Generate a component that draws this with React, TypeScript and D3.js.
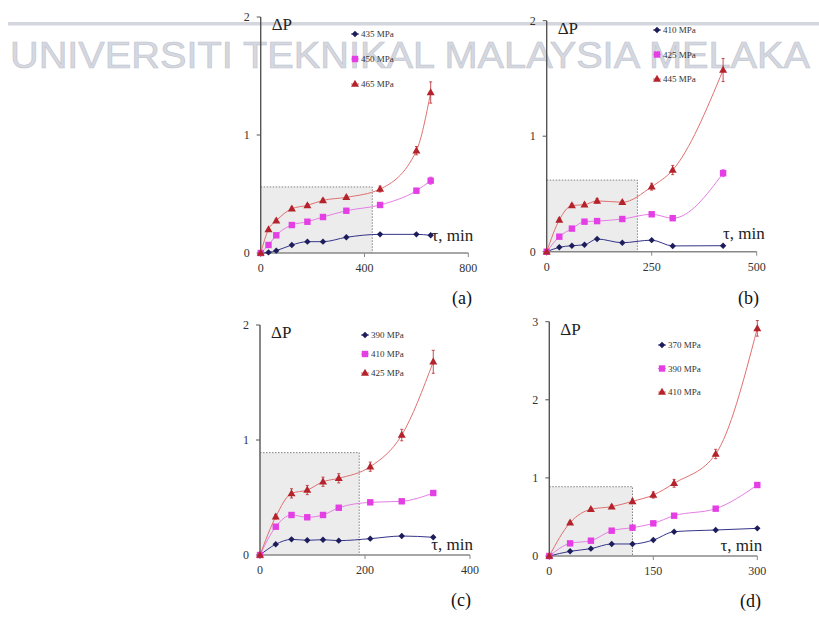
import * as d3 from 'd3';

// panel (a)
const timeA = [0, 30, 60, 120, 180, 240, 330, 460, 600, 655];
const a435 = [0, 0.005, 0.02, 0.068, 0.096, 0.096, 0.133, 0.158, 0.158, 0.15];
const a450 = [0, 0.068, 0.15, 0.237, 0.265, 0.305, 0.358, 0.407, 0.528, 0.613];
const a465 = [0, 0.2, 0.274, 0.375, 0.404, 0.446, 0.472, 0.542, 0.867, 1.36];
const a450Err = [0, 0.01, 0.01, 0.01, 0.01, 0.01, 0.01, 0.015, 0.02, 0.03];
const a465Err = [0, 0.01, 0.015, 0.015, 0.015, 0.015, 0.015, 0.025, 0.035, 0.09];

// panel (b)
const timeB = [0, 30, 60, 90, 120, 180, 250, 300, 420];
const b410 = [0, 0.038, 0.052, 0.06, 0.11, 0.078, 0.1, 0.05, 0.052];
const b425 = [0, 0.13, 0.2, 0.26, 0.265, 0.283, 0.324, 0.29, 0.68];
const b445 = [0, 0.275, 0.4, 0.407, 0.44, 0.428, 0.563, 0.707, 1.573];
const b425Err = [0, 0.01, 0.01, 0.01, 0.01, 0.01, 0.015, 0.015, 0.03];
const b445Err = [0, 0.015, 0.015, 0.015, 0.02, 0.015, 0.03, 0.04, 0.1];

// panel (c)
const timeC = [0, 30, 60, 90, 120, 150, 210, 270, 330];
const c390 = [0, 0.093, 0.136, 0.128, 0.133, 0.125, 0.142, 0.165, 0.154];
const c410 = [0, 0.246, 0.348, 0.328, 0.348, 0.411, 0.458, 0.467, 0.539];
const c425 = [0, 0.333, 0.536, 0.565, 0.637, 0.667, 0.768, 1.043, 1.68];
const c410Err = [0, 0.01, 0.015, 0.015, 0.015, 0.015, 0.015, 0.015, 0.02];
const c425Err = [0, 0.02, 0.04, 0.04, 0.04, 0.04, 0.04, 0.05, 0.1];

// panel (d)
const timeD = [0, 30, 60, 90, 120, 150, 180, 240, 300];
const d370 = [0, 0.06, 0.094, 0.154, 0.154, 0.205, 0.311, 0.333, 0.354];
const d390 = [0, 0.162, 0.196, 0.324, 0.363, 0.418, 0.516, 0.606, 0.909];
const d410 = [0, 0.427, 0.598, 0.632, 0.7, 0.781, 0.931, 1.306, 2.915];
const d390Err = [0, 0.01, 0.01, 0.015, 0.015, 0.015, 0.02, 0.02, 0.03];
const d410Err = [0, 0.02, 0.02, 0.02, 0.03, 0.04, 0.05, 0.06, 0.1];

const ticksA = [0, 400, 800];
const ticksB = [0, 250, 500];
const ticksC = [0, 200, 400];
const ticksD = [0, 150, 300];
const yTicks2 = [0, 1, 2];
const yTicks3 = [0, 1, 2, 3];

const watermark = 'UNIVERSITI TEKNIKAL MALAYSIA MELAKA';

const SERIF = "'Liberation Serif', 'Times New Roman', Times, 'DejaVu Serif', serif";
const NAVY = '#1d1d5c';
const MAGENTA = '#e43fe4';
const RED = '#b4232b';

type Series = { label: string; values: number[]; err?: number[]; kind: 'diamond' | 'square' | 'triangle' };

type PanelProps = {
  times: number[];
  series: Series[];
  xTicks: number[];
  yTicks: number[];
  xPx: [number, number];
  yPx: [number, number];
  shade: [number, number];
  legend: [number, number, number];
  letter: string;
  letterPos: [number, number];
  curve: d3.CurveFactory;
  tauDx: number;
  tauDy: number;
};

const lineColor = { diamond: '#34348a', square: '#e57ee5', triangle: '#e07070' };
const markColor = { diamond: NAVY, square: MAGENTA, triangle: RED };

function Marker({ kind, x, y }: { kind: Series['kind']; x: number; y: number }) {
  if (kind === 'diamond')
    return <path d={`M${x},${y - 3.2}L${x + 3.2},${y}L${x},${y + 3.2}L${x - 3.2},${y}Z`} fill={NAVY} />;
  if (kind === 'square')
    return <rect x={x - 3.2} y={y - 3.2} width={6.4} height={6.4} fill={MAGENTA} />;
  return <path d={`M${x},${y - 4.2}L${x + 4},${y + 2.8}L${x - 4},${y + 2.8}Z`} fill={RED} />;
}

function Panel(p: PanelProps) {
  const x = d3.scaleLinear().domain([p.xTicks[0], p.xTicks[p.xTicks.length - 1]]).range(p.xPx);
  const y = d3.scaleLinear().domain([p.yTicks[0], p.yTicks[p.yTicks.length - 1]]).range(p.yPx);
  const x0 = x(0);
  const y0 = y(0);
  const line = d3.line<number>().x((_, i) => x(p.times[i])).y((d) => y(d)).curve(p.curve);
  return (
    <g>
      <rect x={x0} y={y(p.shade[1])} width={x(p.shade[0]) - x0} height={y0 - y(p.shade[1])} fill="#ececec" />
      <path
        d={`M${x0},${y(p.shade[1])}H${x(p.shade[0])}V${y0}`}
        fill="none"
        stroke="#666"
        strokeWidth={0.8}
        strokeDasharray="1.5,1.5"
      />
      {/* axes */}
      <line x1={x0} x2={x0} y1={y0} y2={p.yPx[1]} stroke="#555" strokeWidth={1.4} />
      <line x1={x0} x2={p.xPx[1]} y1={y0} y2={y0} stroke="#888" strokeWidth={1.6} />
      {p.yTicks.map((t) => (
        <g key={'y' + t}>
          <line x1={x0 - 4} x2={x0} y1={y(t)} y2={y(t)} stroke="#555" strokeWidth={1} />
          <text x={x0 - 11} y={y(t) + 4} fontSize={12} textAnchor="end" fill="#333" fontFamily={SERIF}>
            {t}
          </text>
        </g>
      ))}
      {p.xTicks.map((t) => (
        <g key={'x' + t}>
          <line x1={x(t)} x2={x(t)} y1={y0} y2={y0 + 4} stroke="#888" strokeWidth={1} />
          <text x={x(t)} y={y0 + 19} fontSize={12} textAnchor="middle" fill="#333" fontFamily={SERIF}>
            {t}
          </text>
        </g>
      ))}
      <text x={x0 + 11} y={p.yPx[1] + 13} fontSize={17} fill="#222" fontFamily={SERIF}>
        ΔP
      </text>
      <text x={p.xPx[1] + p.tauDx} y={y0 + p.tauDy} fontSize={17} textAnchor="end" fill="#222" fontFamily={SERIF}>
        τ, min
      </text>
      {/* series */}
      {p.series.map((s) => (
        <g key={s.label}>
          <path d={line(s.values) ?? ''} fill="none" stroke={lineColor[s.kind]} strokeWidth={1} />
          {s.err &&
            s.values.map((v, i) =>
              s.err![i] > 0.012 ? (
                <g key={i} stroke={markColor[s.kind]} strokeWidth={0.8}>
                  <line x1={x(p.times[i])} x2={x(p.times[i])} y1={y(v - s.err![i])} y2={y(v + s.err![i])} />
                  <line x1={x(p.times[i]) - 1.5} x2={x(p.times[i]) + 1.5} y1={y(v + s.err![i])} y2={y(v + s.err![i])} />
                  <line x1={x(p.times[i]) - 1.5} x2={x(p.times[i]) + 1.5} y1={y(v - s.err![i])} y2={y(v - s.err![i])} />
                </g>
              ) : null
            )}
          {s.values.map((v, i) => (
            <Marker key={i} kind={s.kind} x={x(p.times[i])} y={y(v)} />
          ))}
        </g>
      ))}
      {/* legend */}
      {p.series.map((s, i) => {
        const ly = [p.legend[1], p.legend[2], p.legend[1] + (p.legend[2] - p.legend[1]) * 2][i];
        return (
          <g key={'lg' + s.label}>
            <line x1={p.legend[0] - 4} x2={p.legend[0] + 4} y1={ly} y2={ly} stroke={lineColor[s.kind]} strokeWidth={1} />
            <Marker kind={s.kind} x={p.legend[0]} y={ly} />
            <text x={p.legend[0] + 6} y={ly + 3} fontSize={9} fill="#333" fontFamily={SERIF}>
              {s.label}
            </text>
          </g>
        );
      })}
      <text x={p.letterPos[0]} y={p.letterPos[1]} fontSize={18} fill="#111" fontFamily={SERIF}>
        {p.letter}
      </text>
    </g>
  );
}

export default function App() {
  return (
    <svg width={819} height={617} style={{ position: 'absolute', left: 0, top: 0, background: '#fff' }}>
      <rect x={8} y={22} width={811} height={3.5} fill="#d3d6dd" />
      <text
        x={10}
        y={68}
        fontSize={36}
        fontFamily="'Liberation Sans', Arial, sans-serif"
        fill="#d5d8e0"
        stroke="#c0c4ce"
        strokeWidth={0.6}
        textLength={800}
        lengthAdjust="spacingAndGlyphs"
      >
        {watermark}
      </text>
      <Panel
        times={timeA}
        series={[
          { label: '435 MPa', values: a435, kind: 'diamond' },
          { label: '450 MPa', values: a450, err: a450Err, kind: 'square' },
          { label: '465 MPa', values: a465, err: a465Err, kind: 'triangle' },
        ]}
        xTicks={ticksA}
        yTicks={yTicks2}
        xPx={[260.7, 468.3]}
        yPx={[253, 17]}
        shade={[430, 0.56]}
        legend={[355, 34, 59]}
        letter="(a)"
        letterPos={[452, 304]}
        curve={d3.curveMonotoneX}
        tauDx={5}
        tauDy={-12}
      />
      <Panel
        times={timeB}
        series={[
          { label: '410 MPa', values: b410, kind: 'diamond' },
          { label: '425 MPa', values: b425, err: b425Err, kind: 'square' },
          { label: '445 MPa', values: b445, err: b445Err, kind: 'triangle' },
        ]}
        xTicks={ticksB}
        yTicks={yTicks2}
        xPx={[546.7, 756.7]}
        yPx={[251.7, 20.7]}
        shade={[216, 0.62]}
        legend={[657, 30, 54.5]}
        letter="(b)"
        letterPos={[738, 304]}
        curve={d3.curveMonotoneX}
        tauDx={8}
        tauDy={-13}
      />
      <Panel
        times={timeC}
        series={[
          { label: '390 MPa', values: c390, kind: 'diamond' },
          { label: '410 MPa', values: c410, err: c410Err, kind: 'square' },
          { label: '425 MPa', values: c425, err: c425Err, kind: 'triangle' },
        ]}
        xTicks={ticksC}
        yTicks={yTicks2}
        xPx={[260, 470]}
        yPx={[555, 325]}
        shade={[189, 0.89]}
        legend={[365, 335, 354]}
        letter="(c)"
        letterPos={[451, 606]}
        curve={d3.curveMonotoneX}
        tauDx={3}
        tauDy={-5}
      />
      <Panel
        times={timeD}
        series={[
          { label: '370 MPa', values: d370, kind: 'diamond' },
          { label: '390 MPa', values: d390, err: d390Err, kind: 'square' },
          { label: '410 MPa', values: d410, err: d410Err, kind: 'triangle' },
        ]}
        xTicks={ticksD}
        yTicks={yTicks3}
        xPx={[549.3, 757.3]}
        yPx={[556, 321.7]}
        shade={[120, 0.887]}
        legend={[662, 345, 368.5]}
        letter="(d)"
        letterPos={[740, 607]}
        curve={d3.curveMonotoneX}
        tauDx={5}
        tauDy={-5}
      />
    </svg>
  );
}
